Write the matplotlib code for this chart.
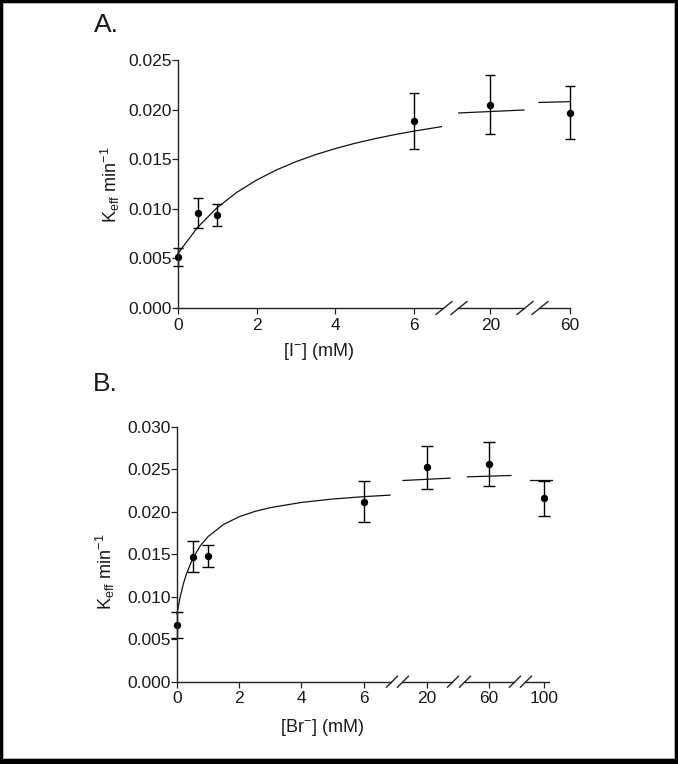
import matplotlib
matplotlib.use("Agg")
import matplotlib.pyplot as plt
from matplotlib.patches import Rectangle
from matplotlib.lines import Line2D
from matplotlib.ticker import FormatStrFormatter

plt.rcParams['font.family'] = ['Liberation Sans', 'DejaVu Sans']
plt.rcParams['mathtext.default'] = 'regular'

W, H = 678, 764

# ---------------- Data: panel A (iodide) ----------------
a_x = [0, 0.5, 1, 6, 20, 60]
a_y = [0.00514, 0.00957, 0.0094, 0.01885, 0.0205, 0.0197]
a_err = [0.0009, 0.0015, 0.0011, 0.0028, 0.0030, 0.0027]
a_ticks = [[0, 2, 4, 6], [20], [60]]
a_yticks = [0.000, 0.005, 0.010, 0.015, 0.020, 0.025]
# fitted curve, per axis segment
a_curve_x = [[0, 0.5, 1, 1.5, 2, 2.5, 3, 3.5, 4, 4.5, 5, 5.5, 6, 6.7],
             [15.3, 25.0],
             [50.0, 60.0]]
a_curve_y = [[0.0055, 0.00814, 0.01013, 0.01167, 0.0129, 0.01391, 0.01475,
              0.01546, 0.01607, 0.0166, 0.01706, 0.01747, 0.01783, 0.01828],
             [0.01966, 0.01996],
             [0.02072, 0.02080]]

# ---------------- Data: panel B (bromide) ----------------
b_x = [0, 0.5, 1, 6, 20, 60, 100]
b_y = [0.00667, 0.0147, 0.01482, 0.02118, 0.02522, 0.02565, 0.02157]
b_err = [0.0015, 0.0018, 0.0013, 0.0024, 0.0025, 0.0026, 0.0021]
b_ticks = [[0, 2, 4, 6], [20], [60], [100]]
b_yticks = [0.000, 0.005, 0.010, 0.015, 0.020, 0.025, 0.030]
b_curve_x = [[0, 0.1, 0.2, 0.3, 0.5, 0.75, 1, 1.5, 2, 2.5, 3, 4, 5, 6, 6.85],
             [15.2, 24.6],
             [55.7, 64.4],
             [88.9, 106.0]]
b_curve_y = [[0.0080, 0.00994, 0.01145, 0.01265, 0.01445, 0.01599, 0.01708,
              0.01851, 0.01941, 0.02003, 0.02048, 0.02109, 0.02149, 0.02177, 0.02195],
             [0.02367, 0.02395],
             [0.02410, 0.02426],
             [0.02373, 0.02373]]

fig = plt.figure(figsize=(W / 100, H / 100), dpi=100, facecolor='black')
fig.patches.append(Rectangle((3 / W, 6 / H), 671 / W, 755 / H,
                             transform=fig.transFigure, facecolor='white',
                             edgecolor='#bbbbbb', lw=0.6, zorder=-10))

TXT = '#1a1a1a'
AX = '#222222'
TICK_FS = 12.5
LAB_FS = 13


def px_axes(x0, x1, ytop, ybot):
    return fig.add_axes([x0 / W, 1 - ybot / H, (x1 - x0) / W, (ybot - ytop) / H])


def slash(xc, yc, dx, dy):
    fig.add_artist(Line2D([(xc - dx) / W, (xc + dx) / W],
                          [1 - (yc + dy) / H, 1 - (yc - dy) / H],
                          transform=fig.transFigure, color=AX, lw=1.0))


def panel(segs, xlims, ticks, yticks, ylim, xs, ys, errs, cxs, cys, ytop, ybot,
          capsize, slash_dx, slash_dy):
    axes = []
    for i, ((x0, x1), xl, tk) in enumerate(zip(segs, xlims, ticks)):
        ax = px_axes(x0, x1, ytop, ybot)
        ax.set_facecolor('none')
        ax.set_xlim(*xl)
        ax.set_ylim(*ylim)
        for s in ['top', 'right']:
            ax.spines[s].set_visible(False)
        ax.spines['bottom'].set_color(AX)
        ax.spines['bottom'].set_linewidth(1.0)
        ax.set_xticks(tk)
        ax.tick_params(axis='x', direction='out', length=4, width=0.9,
                       colors=AX, labelcolor=TXT, labelsize=TICK_FS, pad=3)
        if i == 0:
            ax.spines['left'].set_color(AX)
            ax.spines['left'].set_linewidth(1.0)
            ax.set_yticks(yticks)
            ax.yaxis.set_major_formatter(FormatStrFormatter('%.3f'))
            ax.tick_params(axis='y', direction='out', length=4, width=0.9,
                           colors=AX, labelcolor=TXT, labelsize=TICK_FS, pad=0.5)
        else:
            ax.spines['left'].set_visible(False)
            ax.set_yticks([])
        # curve segment
        ax.plot(cxs[i], cys[i], color='#111111', lw=0.9, clip_on=False)
        # data points in this segment
        for x, y, e in zip(xs, ys, errs):
            if xl[0] - 1e-9 <= x <= xl[1] + 1e-9 or (i == len(segs) - 1 and x >= xl[0]):
                ax.errorbar([x], [y], yerr=[e], fmt='o', color='black',
                            ms=4.3, elinewidth=1.0, capsize=capsize,
                            capthick=1.0, clip_on=False)
        axes.append(ax)
        # break marks
        if i > 0:
            slash(x0 + 1, ybot, slash_dx, slash_dy)
        if i < len(segs) - 1:
            slash(x1 + 1, ybot, slash_dx, slash_dy)
    return axes


# Panel A
axA = panel(segs=[(178, 443), (458, 524), (539, 570)],
            xlims=[(0, 6.74), (15.2, 25.0), (50.0, 60.0)],
            ticks=a_ticks, yticks=a_yticks, ylim=(0, 0.025),
            xs=a_x, ys=a_y, errs=a_err, cxs=a_curve_x, cys=a_curve_y,
            ytop=60, ybot=308, capsize=3.3, slash_dx=8, slash_dy=6.5)

# Panel B
axB = panel(segs=[(177, 391), (402, 452), (464, 514), (525, 549)],
            xlims=[(0, 6.88), (15.0, 25.0), (55.0, 65.0), (85.0, 103.5)],
            ticks=b_ticks, yticks=b_yticks, ylim=(0, 0.030),
            xs=b_x, ys=b_y, errs=b_err, cxs=b_curve_x, cys=b_curve_y,
            ytop=426.7, ybot=681.7, capsize=4.0, slash_dx=5.5, slash_dy=5.5)

# Texts
fig.text(94 / W, 1 - 25 / H, 'A.', fontsize=19, color=TXT, va='center', ha='left')
fig.text(93 / W, 1 - 384 / H, 'B.', fontsize=19, color=TXT, va='center', ha='left')

fig.text(110 / W, 1 - 185 / H, 'K$_{eff}$ min$^{-1}$', fontsize=LAB_FS, color=TXT,
         rotation=90, va='center', ha='center')
fig.text(105 / W, 1 - 572 / H, 'K$_{eff}$ min$^{-1}$', fontsize=LAB_FS, color=TXT,
         rotation=90, va='center', ha='center')

fig.text(318 / W, 1 - 351 / H, '[I$^{-}$] (mM)', fontsize=LAB_FS, color=TXT,
         va='center', ha='center')
fig.text(322 / W, 1 - 728 / H, '[Br$^{-}$] (mM)', fontsize=LAB_FS, color=TXT,
         va='center', ha='center')

fig.savefig('out.png', dpi=100, facecolor=fig.get_facecolor())
